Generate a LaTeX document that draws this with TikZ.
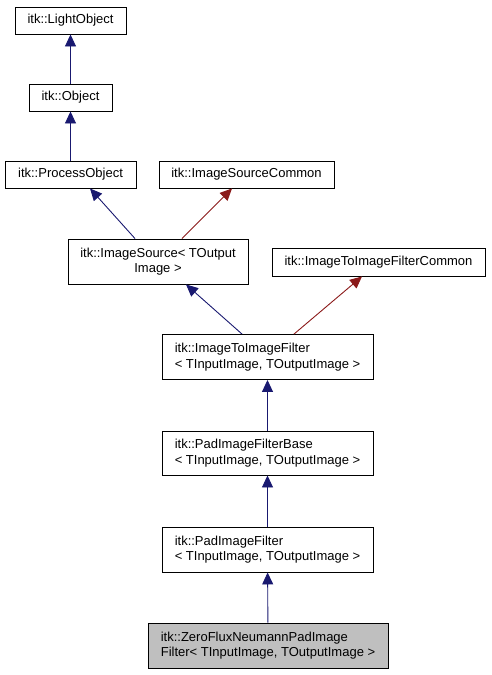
\documentclass[tikz,border=0pt]{standalone}
\usepackage{fontspec}
\setmainfont{Liberation Sans}
\usetikzlibrary{arrows.meta,calc}
\definecolor{inhblue}{RGB}{25,25,112}
\definecolor{inhred}{RGB}{139,26,26}
\definecolor{curgray}{RGB}{191,191,191}

\begin{document}
\begin{tikzpicture}[x=1pt, y=-1pt,
  every node/.style={font=\fontsize{13}{15.7}\selectfont},
  cls/.style={draw=black, line width=0.9pt, fill=white, inner sep=0pt, minimum height=27pt, align=left},
  tall/.style={cls, minimum height=45pt},
  pub/.style={-{Triangle[length=12pt,width=11pt]}, line width=0.9pt, color=inhblue},
  prot/.style={-{Triangle[length=12pt,width=11pt]}, line width=0.9pt, color=inhred}
]
  \useasboundingbox (0,0) rectangle (491,675);

  \node[cls, minimum width=111pt] (light) at (70.5,20.5) {itk::LightObject};
  \node[cls, minimum width=83pt] (obj) at (70.5,97.5) {itk::Object};
  \node[cls, minimum width=131pt] (proc) at (70.5,174.5) {itk::ProcessObject};
  \node[cls, minimum width=175pt] (isc) at (246.5,174.5) {itk::ImageSourceCommon};
  \node[tall, minimum width=180pt, align=center] (isrc) at (158,261.5) {itk::ImageSource< TOutput\\Image >};
  \node[cls, minimum width=213pt, minimum height=28pt] (itifc) at (378.5,262) {itk::ImageToImageFilterCommon};
  \node[tall, minimum width=211pt] (itif) at (267.5,357) {itk::ImageToImageFilter\\< TInputImage, TOutputImage >};
  \node[tall, minimum width=211pt, minimum height=44pt] (pfb) at (267.5,453) {itk::PadImageFilterBase\\< TInputImage, TOutputImage >};
  \node[tall, minimum width=211pt] (pf) at (267.5,549.5) {itk::PadImageFilter\\< TInputImage, TOutputImage >};
  \node[tall, minimum width=240pt, fill=curgray] (zero) at (268,645.5) {itk::ZeroFluxNeumannPadImage\\Filter< TInputImage, TOutputImage >};

  \draw[pub] (obj) -- (light);
  \draw[pub] (proc) -- (obj);
  \draw[pub] ([xshift=-23pt]isrc.north) -- ([xshift=19.5pt]proc.south);
  \draw[prot] ([xshift=24pt]isrc.north) -- ([xshift=-14.5pt]isc.south);
  \draw[pub] ([xshift=-25.5pt]itif.north) -- ([xshift=28pt]isrc.south);
  \draw[prot] ([xshift=26.5pt]itif.north) -- ([xshift=-16.5pt]itifc.south);
  \draw[pub] (pfb) -- (itif);
  \draw[pub] (pf) -- (pfb);
  \draw[pub] (zero) -- (pf);
\end{tikzpicture}
\end{document}
